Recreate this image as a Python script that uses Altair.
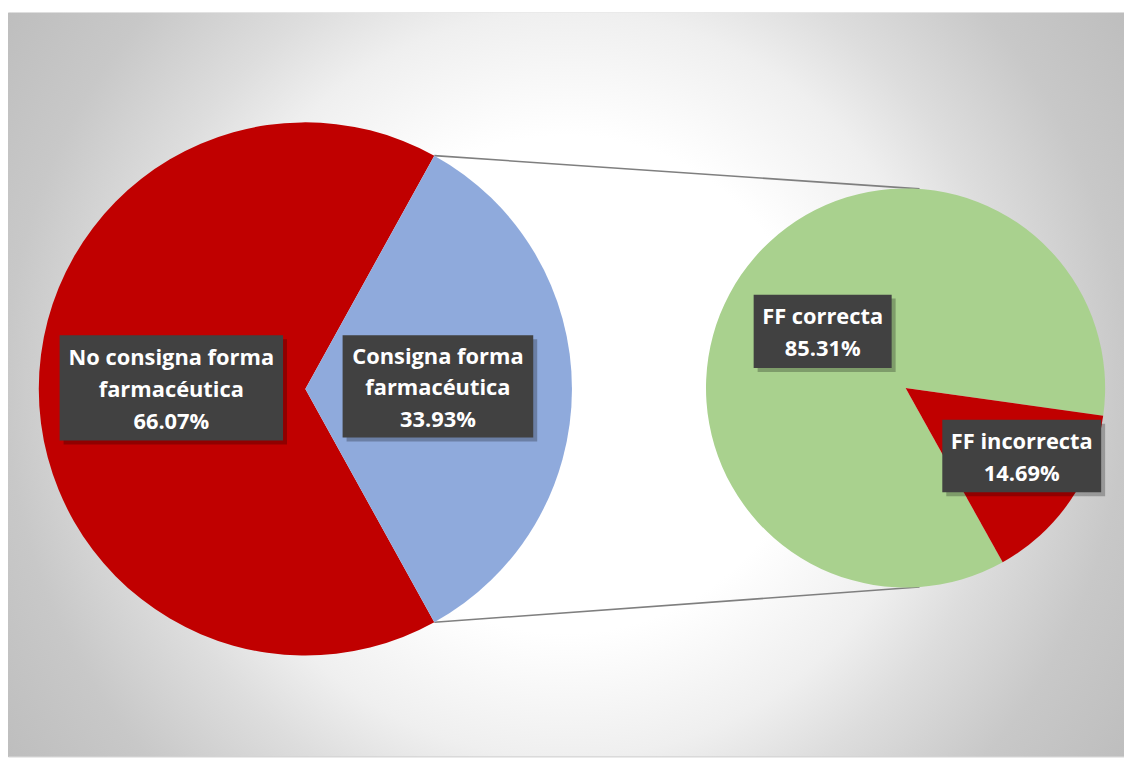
import math
import altair as alt
import pandas as pd

# ---------------- data ----------------
main_categories = ["No consigna forma farmacéutica", "Consigna forma farmacéutica"]
main_display = ["No consigna forma\nfarmacéutica", "Consigna forma\nfarmacéutica"]
main_values = [66.07, 33.93]
sub_categories = ["FF correcta", "FF incorrecta"]
sub_display = ["FF correcta", "FF incorrecta"]
sub_values = [85.31, 14.69]
slice_colors = ["#C00000", "#8FAADC", "#A9D18E", "#C00000"]

# ---------------- layout ----------------
W, H = 1124, 749
main_cx, main_cy, main_r = 299.5, 379.0, 268.5
sub_cx, sub_cy, sub_r = 904.0, 378.0, 201.0
sub_start_deg = 98.0          # where the small slice of the secondary pie starts
connector_end_deg = 4.0        # where the connector lines meet the secondary pie
main_label_boxes = [(52, 277, 325, 431), (337, 529, 325, 428)]   # x1, x2, y1, y2
sub_label_boxes = [(751, 890, 284, 358), (941, 1101, 410, 483)]
FONT = "Open Sans"
LINE_H = 32
TEXT_NUDGE = 2

TAU = 2 * math.pi
split_frac = main_values[1] / sum(main_values)
main_start = math.pi / 2 - split_frac * math.pi
sub_start = math.radians(sub_start_deg)

color_scale = alt.Scale(domain=main_categories + sub_categories, range=slice_colors)

# ---------------- background ----------------
bg_df = pd.DataFrame({"x": [0], "x2": [W], "y": [0], "y2": [H]})
background = alt.Chart(bg_df).mark_rect(
    fill=alt.RadialGradient(
        gradient="radial",
        stops=[
            alt.GradientStop(offset=0.0, color="#ffffff"),
            alt.GradientStop(offset=0.36, color="#ffffff"),
            alt.GradientStop(offset=0.54, color="#efefef"),
            alt.GradientStop(offset=0.65, color="#dddddd"),
            alt.GradientStop(offset=0.81, color="#c8c8c8"),
            alt.GradientStop(offset=1.0, color="#bcbcbc"),
        ],
        x1=0.5, y1=0.5, r1=0, x2=0.5, y2=0.5, r2=0.62,
    )
).encode(
    x=alt.X("x:Q", scale=None), x2="x2:Q",
    y=alt.Y("y:Q", scale=None), y2="y2:Q",
)

# ---------------- connector lines ----------------
ce = math.radians(connector_end_deg)
conn_df = pd.DataFrame({
    "x": [main_cx + main_r * math.sin(main_start)] * 2,
    "y": [main_cy - main_r * math.cos(main_start), main_cy + main_r * math.cos(main_start)],
    "x2": [sub_cx + sub_r * math.sin(ce)] * 2,
    "y2": [sub_cy - sub_r * math.cos(ce), sub_cy + sub_r * math.cos(ce)],
})
connectors = alt.Chart(conn_df).mark_rule(color="#7f7f7f", strokeWidth=1.6).encode(
    x=alt.X("x:Q", scale=None), x2="x2:Q",
    y=alt.Y("y:Q", scale=None), y2="y2:Q",
)

# ---------------- pies ----------------
main_df = pd.DataFrame({
    "category": main_categories,
    "value": main_values,
    "ord": [1, 0],
    "cx": [main_cx] * 2,
    "cy": [main_cy] * 2,
})
main_pie = alt.Chart(main_df).mark_arc(outerRadius=main_r, stroke=None).encode(
    theta=alt.Theta("value:Q", stack=True, scale=alt.Scale(range=[main_start, main_start + TAU])),
    order=alt.Order("ord:Q"),
    color=alt.Color("category:N", scale=color_scale, legend=None),
    x=alt.X("cx:Q", scale=None),
    y=alt.Y("cy:Q", scale=None),
)

sub_df = pd.DataFrame({
    "category": sub_categories,
    "value": sub_values,
    "ord": [1, 0],
    "cx": [sub_cx] * 2,
    "cy": [sub_cy] * 2,
})
sub_pie = alt.Chart(sub_df).mark_arc(outerRadius=sub_r, stroke=None).encode(
    theta=alt.Theta("value:Q", stack=True, scale=alt.Scale(range=[sub_start, sub_start + TAU])),
    order=alt.Order("ord:Q"),
    color=alt.Color("category:N", scale=color_scale, legend=None),
    x=alt.X("cx:Q", scale=None),
    y=alt.Y("cy:Q", scale=None),
)

# ---------------- labels ----------------
rows = []
for disp, val, box in zip(main_display, main_values, main_label_boxes):
    rows.append({"label": f"{disp}\n{val:.2f}%", "x1": box[0], "x2": box[1], "y1": box[2], "y2": box[3]})
for disp, val, box in zip(sub_display, sub_values, sub_label_boxes):
    rows.append({"label": f"{disp}\n{val:.2f}%", "x1": box[0], "x2": box[1], "y1": box[2], "y2": box[3]})
lab_df = pd.DataFrame(rows)
lab_df["nlines"] = lab_df["label"].str.count("\n") + 1
lab_df["xc"] = (lab_df["x1"] + lab_df["x2"]) / 2
lab_df["yt"] = (lab_df["y1"] + lab_df["y2"]) / 2 - (lab_df["nlines"] - 1) / 2 * LINE_H + TEXT_NUDGE
lab_df["sx1"] = lab_df["x1"] + 4
lab_df["sx2"] = lab_df["x2"] + 4
lab_df["sy1"] = lab_df["y1"] + 4
lab_df["sy2"] = lab_df["y2"] + 4

lab_base = alt.Chart(lab_df)
shadows = lab_base.mark_rect(color="#000000", opacity=0.25).encode(
    x=alt.X("sx1:Q", scale=None), x2="sx2:Q",
    y=alt.Y("sy1:Q", scale=None), y2="sy2:Q",
)
boxes = lab_base.mark_rect(color="#414141").encode(
    x=alt.X("x1:Q", scale=None), x2="x2:Q",
    y=alt.Y("y1:Q", scale=None), y2="y2:Q",
)
texts = lab_base.mark_text(
    font=FONT, fontSize=22, fontWeight="bold", color="white",
    lineBreak="\n", lineHeight=LINE_H, align="center", baseline="middle",
).encode(
    x=alt.X("xc:Q", scale=None),
    y=alt.Y("yt:Q", scale=None),
    text="label:N",
)

chart = alt.layer(
    background, connectors, main_pie, sub_pie, shadows, boxes, texts
).resolve_scale(
    theta="independent"
).properties(
    width=W, height=H,
    autosize=alt.AutoSizeParams(type="none"),
    padding={"left": 0, "top": 2, "right": 0, "bottom": 0},
    background="white",
).configure_view(
    stroke="#bdbdbd", strokeWidth=1,
)

chart.save("out.html", embed_options={"renderer": "svg", "actions": False})
